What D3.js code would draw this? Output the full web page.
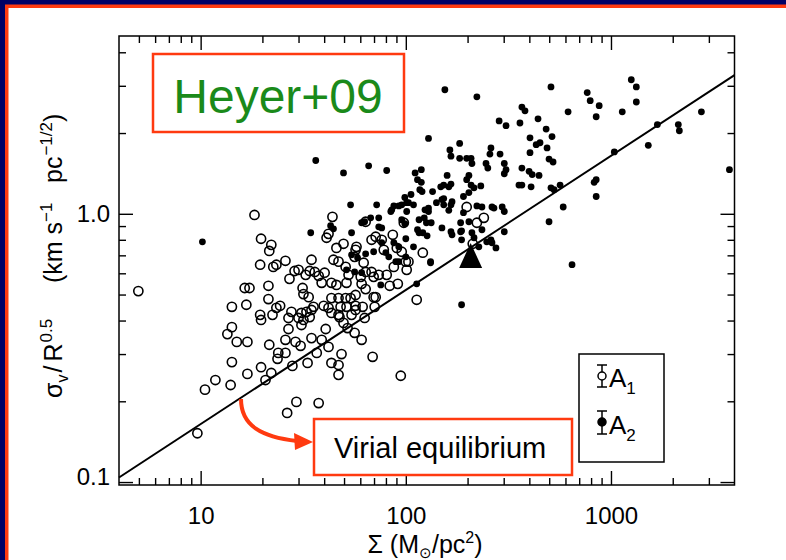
<!DOCTYPE html>
<html lang="en">
<head>
<meta charset="UTF-8">
<title>Heyer+09 virial plot</title>
<script src="https://cdn.jsdelivr.net/npm/d3@7"></script>
<style>
    body { margin: 0; background: #000066; }
    svg { display: block; }
    text { font-family: "Liberation Sans", Arial, sans-serif; }
</style>
</head>
<body>
<svg id="chart" width="786" height="560"></svg>
<script>
// axis ticks
const xMajorTicks = [10, 100, 1000];
const xTickLabels = ["10", "100", "1000"];
const xMinorTicks = [5, 6, 7, 8, 9, 20, 30, 40, 50, 60, 70, 80, 90,
    200, 300, 400, 500, 600, 700, 800, 900, 2000, 3000];
const yMajorTicks = [0.1, 1];
const yTickLabels = ["0.1", "1.0"];
const yMinorTicks = [0.2, 0.3, 0.4, 0.5, 0.6, 0.7, 0.8, 0.9, 2, 3, 4];

// virial equilibrium: sigma/R^0.5 = coef * Sigma^0.5
const virialCoef = 0.052;

// triangle (mean point)
const trianglePts = [[207, 0.69]];

// A1: open circles [Sigma, sigma/R^0.5]
const openA1 = [[4.97,0.515],[9.64,0.152],[10.5,0.221],[11.8,0.240],[14.0,0.230],[14.2,0.280],[16.9,0.253],[19.7,0.268],
    [20.7,0.240],[22.1,0.255],[26.4,0.181],[29.3,0.199],[37.6,0.197],[13.5,0.356],[14.2,0.378],[15.0,0.333],[16.9,0.333],
    [14.2,0.450],[16.7,0.458],[16.4,0.529],[17.3,0.529],[19.5,0.646],[19.7,0.807],[18.3,0.99],[22.1,0.766],[21.6,0.727],
    [22.6,0.634],[23.4,0.646],[21.4,0.539],[21.4,0.481],[19.5,0.420],[19.7,0.402],[22.4,0.420],[23.4,0.446],[24.4,0.454],
    [21.6,0.325],[23.9,0.303],[23.7,0.288],[25.9,0.668],[27.1,0.572],[28.7,0.612],[30.0,0.618],[27.7,0.431],[26.8,0.409],
    [26.8,0.372],[25.9,0.339],[29.0,0.333],[25.9,0.303],[28.0,0.271],[31.4,0.529],[31.7,0.502],[33.6,0.489],[34.0,0.612],
    [34.7,0.674],[33.2,0.278],[36.8,0.303],[34.7,0.344],[38.9,0.339],[30.7,0.322],[37.6,0.587],[40.2,0.603],[38.9,0.553],
    [39.8,0.454],[42.0,0.446],[40.7,0.372],[42.0,0.319],[43.4,0.278],[47.0,0.273],[47.0,0.251],[48.6,0.300],[43.9,0.974],
    [41.1,0.814],[42.0,0.842],[45.9,0.746],[49.7,0.773],[44.4,0.674],[47.0,0.663],[50.9,0.634],[52.6,0.592],[51.4,0.553],
    [45.9,0.543],[43.4,0.553],[43.4,0.485],[47.0,0.485],[50.9,0.485],[53.8,0.485],[48.1,0.450],[51.4,0.450],[56.9,0.454],
    [56.9,0.438],[47.5,0.412],[49.7,0.392],[52.0,0.375],[56.3,0.360],[60.9,0.339],[68.9,0.293],[94.5,0.249],[56.9,0.734],
    [56.3,0.691],[62.3,0.657],[63.7,0.607],[60.3,0.582],[60.9,0.548],[63.7,0.524],[56.9,0.498],[61.6,0.450],[63.0,0.409],
    [69.7,0.489],[71.3,0.489],[70.5,0.450],[69.7,0.582],[73.8,0.592],[68.1,0.607],[80.7,0.592],[83.5,0.539],[91.4,0.548],
    [87.4,0.634],[78.1,0.734],[90.4,0.746],[95.5,0.722],[100,0.663],[101,0.618],[103,0.663],[97.8,0.926],[86.4,0.835],
    [76.3,0.800],[71.3,0.821],[68.1,0.800],[63.7,0.934],[57.5,0.753],[113,0.478],[121,0.716],[31.0,0.427],[32.8,0.431],
    [30.0,0.409],[31.7,0.402],[34.0,0.412],[31.0,0.385],[36.0,0.607],[32.5,0.592],[35.5,0.450],[34.7,0.438],[43.4,0.427],
    [47.0,0.420],[54.4,0.420],[198,1.06],[222,0.926],[240,0.966],[212,0.773]];

// A2: filled dots [Sigma, sigma/R^0.5]
const filledA2 = [[10.2,0.786],[36.4,1.58],[49.7,1.42],[65.9,1.51],[80.7,1.45],[111,1.42],[119,1.46],[114,1.34],[119,1.31],
    [106,1.18],[120,1.21],[129,1.91],[53.8,1.08],[72.1,1.08],[87.4,1.07],[84.5,1.02],[98.9,1.15],[101,1.10],[109,1.08],
    [101,1.02],[155,2.90],[183,1.83],[164,1.73],[166,1.64],[183,1.61],[159,1.39],[166,1.29],[162,1.26],[148,1.26],
    [135,1.21],[150,1.13],[153,1.08],[168,1.11],[191,1.16],[198,1.34],[198,1.61],[129,1.05],[222,2.73],[510,2.97],
    [766,2.83],[792,2.64],[876,2.53],[847,2.30],[618,2.40],[368,2.50],[381,2.42],[285,2.22],[308,2.13],[360,2.18],
    [441,2.26],[483,2.07],[516,1.94],[403,1.92],[432,1.81],[451,1.84],[488,1.76],[403,1.69],[499,1.60],[522,1.56],
    [260,1.76],[257,1.67],[288,1.67],[208,1.61],[210,1.54],[246,1.54],[251,1.48],[302,1.54],[308,1.46],[302,1.41],
    [368,1.48],[399,1.44],[413,1.40],[446,1.39],[203,1.39],[208,1.28],[215,1.25],[232,1.27],[203,1.20],[356,1.28],
    [368,1.28],[408,1.26],[510,1.25],[528,1.23],[565,1.28],[153,1.14],[166,1.08],[162,1.03],[191,1.01],[222,1.07],
    [235,1.06],[263,1.06],[269,1.05],[295,1.06],[302,1.02],[585,1.06],[499,0.934],[150,0.886],[166,0.857],[168,0.835],
    [187,0.864],[210,0.850],[187,0.800],[235,0.872],[260,0.800],[263,0.780],[302,0.857],[227,0.753],[275,0.746],
    [828,1.31],[847,1.34],[847,1.16],[1256,3.16],[1329,2.97],[1329,2.61],[1135,2.40],[1683,2.15],[2129,2.15],[2154,2.04],
    [2759,2.40],[1520,1.80],[1038,1.70],[3779,1.46],[646,0.646],[187,0.458],[132,0.657],[73.8,0.966],[60.9,0.926],
    [63.0,0.934],[67.4,0.966],[73.8,0.894],[85.4,1.035],[95.5,1.08],[95.5,0.950],[98.9,0.918],[124,1.035],[129,1.02],
    [123,0.966],[126,0.926],[133,0.926],[114,0.872],[116,0.850],[121,0.850],[127,0.828],[43.0,0.903],[44.4,0.879],
    [34.4,0.850],[54.4,0.850],[76.3,0.886],[76.3,0.780],[87.4,0.780],[92.4,0.753],[100,0.807],[109,0.753],[69.7,0.722],
    [63.7,0.709],[54.4,0.703],[58.2,0.685],[132,0.663],[89.4,0.663],[92.4,0.663],[100,0.691],[79.9,0.716],[82.6,0.691],
    [51.4,0.618],[60.9,0.603],[113,0.548],[75.5,0.543],[185,0.926],[203,0.934],[185,0.857],[215,0.814],[248,0.786],
    [116,0.950],[141,1.10],[117,1.23],[153,1.28],[92.4,1.07],[103,1.10],[56.3,0.607]];

const orange = "#ff3a10";

const svg = d3.select("#chart");

// slide background
svg.append("rect").attr("width", 786).attr("height", 560).attr("fill", "#000066");
svg.append("rect").attr("x", 5).attr("y", 4.5).attr("width", 800).attr("height", 600).attr("fill", orange);
svg.append("rect").attr("x", 8.5).attr("y", 8).attr("width", 800).attr("height", 600).attr("fill", "#fff");

const x = d3.scaleLog().domain([4, 4000]).range([119, 734.5]);
const y = d3.scaleLog().domain([0.0975, 4.6]).range([485, 36]);

// axes with inward ticks on all four sides
function drawAxis(axis, tr, labelled, size) {
    const g = svg.append("g").attr("transform", tr).call(axis);
    g.select(".domain").remove();
    g.selectAll(".tick line").attr("stroke", "#000").attr("stroke-width", 1.4);
    g.attr("font-size", size || 25);
    g.selectAll("text").attr("fill", "#000");
    if (!labelled) g.selectAll("text").remove();
    return g;
}

drawAxis(d3.axisBottom(x).tickValues(xMajorTicks).tickSize(-14).tickPadding(22)
    .tickFormat((d, i) => xTickLabels[i]), "translate(0,485)", true, 24);
drawAxis(d3.axisBottom(x).tickValues(xMinorTicks).tickSize(-7), "translate(0,485)", false);
drawAxis(d3.axisTop(x).tickValues(xMajorTicks).tickSize(-14), "translate(0,36)", false);
drawAxis(d3.axisTop(x).tickValues(xMinorTicks).tickSize(-7), "translate(0,36)", false);

const yl = drawAxis(d3.axisLeft(y).tickValues(yMajorTicks).tickSize(-14).tickPadding(9)
    .tickFormat((d, i) => yTickLabels[i]), "translate(119,0)", true, 24);
yl.selectAll("text").filter(d => d === 0.1).attr("dy", "0.1em");
drawAxis(d3.axisLeft(y).tickValues(yMinorTicks).tickSize(-7), "translate(119,0)", false);
drawAxis(d3.axisRight(y).tickValues(yMajorTicks).tickSize(-14), "translate(734.5,0)", false);
drawAxis(d3.axisRight(y).tickValues(yMinorTicks).tickSize(-7), "translate(734.5,0)", false);

// frame
svg.append("rect")
    .attr("x", x.range()[0]).attr("y", y.range()[1])
    .attr("width", x.range()[1] - x.range()[0])
    .attr("height", y.range()[0] - y.range()[1])
    .attr("fill", "none").attr("stroke", "#000").attr("stroke-width", 1.5);

// points
svg.append("g").selectAll("circle")
    .data(filledA2)
    .enter().append("circle")
    .attr("cx", d => x(d[0]))
    .attr("cy", d => y(d[1]))
    .attr("r", 3.4)
    .attr("fill", "#000");

svg.append("g").selectAll("circle")
    .data(openA1)
    .enter().append("circle")
    .attr("cx", d => x(d[0]))
    .attr("cy", d => y(d[1]))
    .attr("r", 4.6)
    .attr("fill", "none")
    .attr("stroke", "#000")
    .attr("stroke-width", 1.6);

// virial line
const lineXs = x.domain();
svg.append("path")
    .datum(lineXs.map(s => [s, virialCoef * Math.sqrt(s)]))
    .attr("d", d3.line().x(d => x(d[0])).y(d => y(d[1])))
    .attr("fill", "none").attr("stroke", "#000").attr("stroke-width", 2);

// triangle
svg.append("g").selectAll("path")
    .data(trianglePts)
    .enter().append("path")
    .attr("transform", d => `translate(${x(d[0])},${y(d[1])})`)
    .attr("d", "M0,-14L11.5,11L-11.5,11Z")
    .attr("fill", "#000");

// axis titles
const xt = svg.append("text").attr("x", 425).attr("y", 553).attr("text-anchor", "middle")
    .attr("font-size", 25).attr("fill", "#000");
xt.append("tspan").text("\u03A3  (M");
xt.append("tspan").attr("font-size", 15).attr("dy", 5).text("\u2299");
xt.append("tspan").attr("dy", -5).text("/pc");
xt.append("tspan").attr("font-size", 16).attr("dy", -10).text("2");
xt.append("tspan").attr("dy", 10).text(")");

function yTitle(start, build) {
    const t = svg.append("text")
        .attr("transform", `translate(62,${start}) rotate(-90)`)
        .attr("font-size", 25).attr("fill", "#000");
    build(t);
}
yTitle(398, t => {
    t.append("tspan").text("\u03C3");
    t.append("tspan").attr("font-size", 16).attr("dy", 6).text("v");
    t.append("tspan").attr("dy", -6).attr("dx", 2).text("/");
    t.append("tspan").attr("dx", 4).text("R");
    t.append("tspan").attr("font-size", 17).attr("dy", -10).attr("dx", 1).text("0.5");
});
yTitle(283, t => {
    t.append("tspan").text("(km s");
    t.append("tspan").attr("font-size", 17).attr("dy", -10).text("\u22121");
});
yTitle(183, t => {
    t.append("tspan").text("pc");
    t.append("tspan").attr("font-size", 17).attr("dy", -10).attr("dx", 1).text("\u22121/2");
    t.append("tspan").attr("dy", 10).text(")");
});

// Heyer+09 label box
svg.append("rect").attr("x", 153).attr("y", 54).attr("width", 251).attr("height", 78)
    .attr("fill", "#fff").attr("stroke", orange).attr("stroke-width", 2.5);
svg.append("text").attr("x", 278).attr("y", 113).attr("text-anchor", "middle")
    .attr("font-size", 48).attr("fill", "#1a8a1a").text("Heyer+09");

// Virial equilibrium box and arrow
svg.append("rect").attr("x", 314).attr("y", 419).attr("width", 258).attr("height", 56)
    .attr("fill", "#fff").attr("stroke", orange).attr("stroke-width", 2.5);
svg.append("text").attr("x", 334).attr("y", 458)
    .attr("font-size", 29).attr("fill", "#000").text("Virial equilibrium");
svg.append("path").attr("d", "M241,399C241,426 262,437 297,441")
    .attr("fill", "none").attr("stroke", orange).attr("stroke-width", 4);
svg.append("path").attr("d", "M313,442L294,433L295,450Z").attr("fill", orange);

// legend
svg.append("rect").attr("x", 579).attr("y", 354).attr("width", 85).attr("height", 108)
    .attr("fill", "#fff").attr("stroke", "#000").attr("stroke-width", 1.5);
const legendItems = [
    { label: "A", sub: "1", open: true, cy: 376, top: 365, bottom: 387 },
    { label: "A", sub: "2", open: false, cy: 422, top: 411, bottom: 434 }
];
const lg = svg.append("g").selectAll("g").data(legendItems).enter().append("g");
lg.append("path")
    .attr("d", d => `M597,${d.top}H607M602,${d.top}V${d.bottom}M597,${d.bottom}H607`)
    .attr("stroke", "#000").attr("stroke-width", 1.5).attr("fill", "none");
lg.append("circle").attr("cx", 602).attr("cy", d => d.cy).attr("r", 4)
    .attr("fill", d => d.open ? "#fff" : "#000").attr("stroke", "#000").attr("stroke-width", 1.5);
const lt = lg.append("text").attr("x", 609).attr("y", d => d.bottom).attr("font-size", 26).attr("fill", "#000");
lt.append("tspan").text(d => d.label);
lt.append("tspan").attr("font-size", 17).attr("dy", 7).text(d => d.sub);
</script>
</body>
</html>
